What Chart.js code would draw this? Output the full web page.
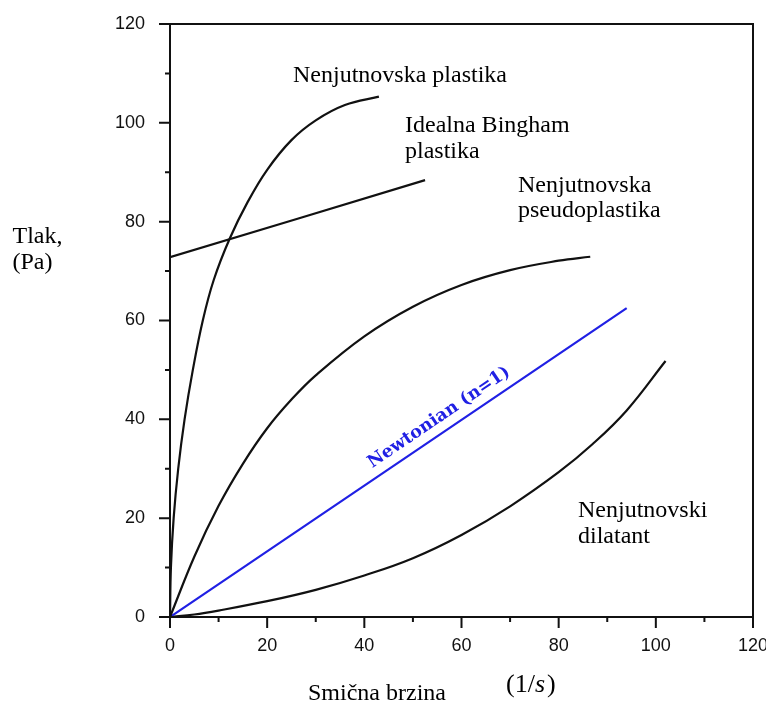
<!DOCTYPE html>
<html>
<head>
<meta charset="utf-8">
<script src="https://cdn.jsdelivr.net/npm/chart.js@4"></script>
<style>
html,body{margin:0;padding:0;background:#fff;}
canvas{display:block;}
</style>
</head>
<body>
<canvas id="c" width="766" height="702"></canvas>
<script>
// ---- data ----
const tickValues = [0, 20, 40, 60, 80, 100, 120];
const minorTicks = [10, 30, 50, 70, 90, 110];

const plastikaX = [0, 0.19, 0.75, 1.69, 3, 4.7, 6.75, 9, 12.3, 16, 20, 25, 30, 36, 43];
const plastikaY = [0, 10, 20, 30, 40, 50, 60, 68.2, 76.6, 84, 90.5, 96.5, 100.5, 103.6, 105.3];

const binghamX = [0, 52.5];
const binghamY = [72.8, 88.4];

const pseudoX = [0, 5, 10, 15, 20, 25, 30, 40, 50, 60, 70, 80, 86.5];
const pseudoY = [0, 12.2, 22.5, 31, 38.2, 44, 48.9, 56.8, 62.8, 67.2, 70.2, 72.1, 72.9];

const newtonX = [0, 94];
const newtonY = [0, 62.5];

const dilatantX = [0, 5, 10, 20, 30, 40, 50, 60, 70, 80, 87, 94, 102];
const dilatantY = [0, 0.5, 1.3, 3.2, 5.5, 8.4, 11.9, 16.6, 22.4, 29.3, 35, 41.8, 51.8];

const BLUE = '#2020e4';
const pts = (xs, ys) => xs.map((v, i) => ({x: v, y: ys[i]}));

function ds(xs, ys, color, w) {
  return {
    data: pts(xs, ys),
    showLine: true,
    borderColor: color,
    borderWidth: w,
    pointRadius: 0,
    tension: 0.4,
    fill: false
  };
}

const decor = {
  id: 'decor',
  afterDraw(chart) {
    const {ctx, chartArea: a, scales: {x, y}} = chart;
    ctx.save();
    // frame
    ctx.strokeStyle = '#111';
    ctx.lineWidth = 2;
    ctx.strokeRect(a.left, a.top, a.right - a.left, a.bottom - a.top);
    // ticks
    ctx.beginPath();
    tickValues.forEach(v => {
      const py = y.getPixelForValue(v);
      ctx.moveTo(a.left - 11, py); ctx.lineTo(a.left, py);
      const px = x.getPixelForValue(v);
      ctx.moveTo(px, a.bottom); ctx.lineTo(px, a.bottom + 11);
    });
    minorTicks.forEach(v => {
      const py = y.getPixelForValue(v);
      ctx.moveTo(a.left - 5, py); ctx.lineTo(a.left, py);
      const px = x.getPixelForValue(v);
      ctx.moveTo(px, a.bottom); ctx.lineTo(px, a.bottom + 5);
    });
    ctx.stroke();

    // annotations
    ctx.fillStyle = '#000';
    ctx.textAlign = 'left';
    ctx.textBaseline = 'alphabetic';
    ctx.font = '24px "Liberation Serif"';
    ctx.fillText('Nenjutnovska plastika', 293, 81.5);
    ctx.fillText('Idealna Bingham', 405, 131.5);
    ctx.fillText('plastika', 405, 158);
    ctx.fillText('Nenjutnovska', 518, 191.5);
    ctx.fillText('pseudoplastika', 518, 217);
    ctx.fillText('Nenjutnovski', 578, 516.5);
    ctx.fillText('dilatant', 578, 543);
    ctx.fillText('Tlak,', 12.5, 243);
    ctx.fillText('(Pa)', 12.5, 269);
    ctx.fillText('Smična brzina', 308, 700);

    // (1/s)
    ctx.font = '26px "Liberation Serif"';
    let cx = 506;
    const by = 692;
    ctx.fillText('(1/', cx, by);
    cx += ctx.measureText('(1/').width;
    ctx.font = 'italic 26px "Liberation Serif"';
    ctx.fillText('s', cx, by);
    cx += ctx.measureText('s').width + 2;
    ctx.font = '26px "Liberation Serif"';
    ctx.fillText(')', cx, by);

    // Newtonian label along the line
    const p0x = x.getPixelForValue(newtonX[0]), p0y = y.getPixelForValue(newtonY[0]);
    const p1x = x.getPixelForValue(newtonX[1]), p1y = y.getPixelForValue(newtonY[1]);
    const ang = Math.atan2(p1y - p0y, p1x - p0x);
    const t = 0.455;
    ctx.translate(p0x + t * (p1x - p0x), p0y + t * (p1y - p0y));
    ctx.rotate(ang);
    ctx.fillStyle = BLUE;
    ctx.font = 'bold 17.5px "DejaVu Serif"';
    ctx.fillText('Newtonian (n=1)', 0, -10);
    ctx.restore();
  }
};

const tickFont = {family: '"Liberation Sans", Arial, sans-serif', size: 18};
const noPad = s => { s.paddingLeft = 0; s.paddingRight = 0; s.paddingTop = 0; s.paddingBottom = 0; };

new Chart(document.getElementById('c'), {
  type: 'scatter',
  data: {
    datasets: [
      ds(plastikaX, plastikaY, '#111', 2.2),
      ds(binghamX, binghamY, '#111', 2.2),
      ds(pseudoX, pseudoY, '#111', 2.2),
      ds(newtonX, newtonY, BLUE, 2.2),
      ds(dilatantX, dilatantY, '#111', 2.2)
    ]
  },
  options: {
    responsive: false,
    animation: false,
    devicePixelRatio: 1,
    layout: {padding: {top: 24, right: 13, left: 0, bottom: 0}},
    plugins: {legend: {display: false}, tooltip: {enabled: false}},
    scales: {
      x: {
        type: 'linear', min: 0, max: 120,
        grid: {display: false, drawTicks: false},
        border: {display: false},
        afterBuildTicks: s => { s.ticks = tickValues.map(v => ({value: v})); },
        afterFit: s => { s.height = 85; noPad(s); },
        ticks: {font: tickFont, color: '#111', padding: 18, maxRotation: 0, autoSkip: false}
      },
      y: {
        type: 'linear', min: 0, max: 120,
        grid: {display: false, drawTicks: false},
        border: {display: false},
        afterBuildTicks: s => { s.ticks = tickValues.map(v => ({value: v})); },
        afterFit: s => { s.width = 170; noPad(s); },
        ticks: {font: tickFont, color: '#111', padding: 25, autoSkip: false}
      }
    }
  },
  plugins: [decor]
});
</script>
</body>
</html>
